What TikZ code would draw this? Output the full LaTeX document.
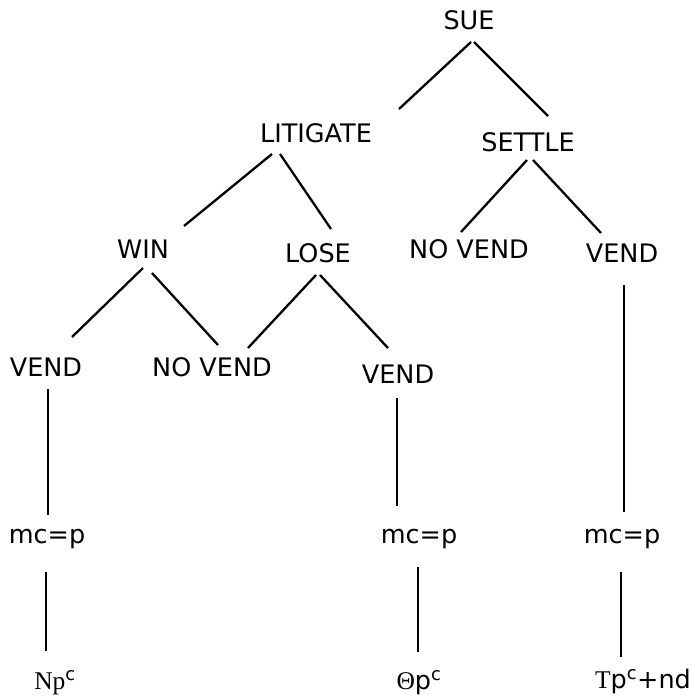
\documentclass[tikz,border=0pt]{standalone}
\usepackage{fontspec}
\setmainfont{DejaVu Sans}
\newfontfamily\serifx{Liberation Serif}
\begin{document}
\begin{tikzpicture}[x=1pt,y=-1pt,
  lbl/.style={inner sep=0pt,font=\fontsize{25.5}{28}\selectfont},
  edge/.style={line width=2.3pt}]
\useasboundingbox (0,0) rectangle (692,696);
% nodes
\node[lbl] (sue) at (469,20) {SUE};
\node[lbl] (lit) at (316,133) {LITIGATE};
\node[lbl] (set) at (528,142) {SETTLE};
\node[lbl] (win) at (143,249) {WIN};
\node[lbl] (lose) at (318,253) {LOSE};
\node[lbl] (nv1) at (469,249) {NO VEND};
\node[lbl] (v4) at (622,253) {VEND};
\node[lbl] (v1) at (46,367) {VEND};
\node[lbl] (nv2) at (212,367) {NO VEND};
\node[lbl] (v3) at (398,374) {VEND};
\node[lbl] (m1) at (47,539) {mc=p};
\node[lbl] (m2) at (419,539) {mc=p};
\node[lbl] (m3) at (622,539) {mc=p};
\node[lbl] (r1) at (55,683) {{\serifx N}{\serifx p}\textsuperscript{c}};
\node[lbl] (r2) at (419,683) {{\serifx\char"0398}p\textsuperscript{c}};
\node[lbl] (r3) at (643,681) {{\serifx T}p\textsuperscript{c}+nd};
% connector end points
\coordinate (a1) at (471,42);  \coordinate (a2) at (399,109);
\coordinate (b1) at (474,42);  \coordinate (b2) at (548,116);
\coordinate (c1) at (272,154); \coordinate (c2) at (184,226);
\coordinate (d1) at (280,154); \coordinate (d2) at (331,229);
\coordinate (e1) at (527,160); \coordinate (e2) at (461,232);
\coordinate (f1) at (533,160); \coordinate (f2) at (601,233);
\coordinate (g1) at (143,268); \coordinate (g2) at (72,337);
\coordinate (h1) at (152,273); \coordinate (h2) at (218,345);
\coordinate (i1) at (316,275); \coordinate (i2) at (248,348);
\coordinate (j1) at (320,275); \coordinate (j2) at (388,348);
\coordinate (k1) at (48,389);  \coordinate (k2) at (48,515);
\coordinate (l1) at (397,398); \coordinate (l2) at (397,506);
\coordinate (m1a) at (624,285); \coordinate (m1b) at (624,512);
\coordinate (n1) at (46,572);  \coordinate (n2) at (46,651);
\coordinate (o1) at (418,567); \coordinate (o2) at (418,652);
\coordinate (p1) at (621,572); \coordinate (p2) at (621,657);
\draw[edge] (a1) -- (a2);
\draw[edge] (b1) -- (b2);
\draw[edge] (c1) -- (c2);
\draw[edge] (d1) -- (d2);
\draw[edge] (e1) -- (e2);
\draw[edge] (f1) -- (f2);
\draw[edge] (g1) -- (g2);
\draw[edge] (h1) -- (h2);
\draw[edge] (i1) -- (i2);
\draw[edge] (j1) -- (j2);
\draw[edge] (k1) -- (k2);
\draw[edge] (l1) -- (l2);
\draw[edge] (m1a) -- (m1b);
\draw[edge] (n1) -- (n2);
\draw[edge] (o1) -- (o2);
\draw[edge] (p1) -- (p2);
\end{tikzpicture}
\end{document}
